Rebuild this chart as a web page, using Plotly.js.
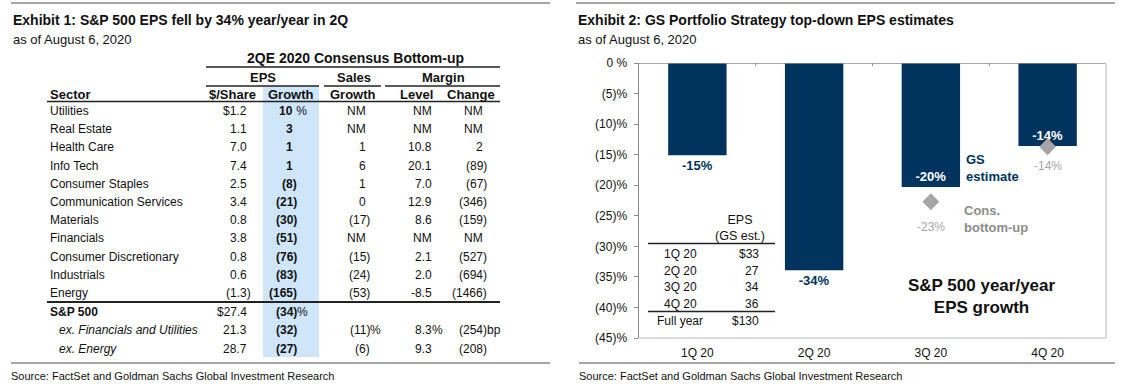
<!DOCTYPE html>
<html><head><meta charset="utf-8">
<script src="https://cdn.plot.ly/plotly-3.0.1.min.js"></script>
<style>html,body{margin:0;padding:0;background:#fff;}#chart{width:1130px;height:388px;}</style>
</head><body><div id="chart"></div>
<script>
// ---------- Exhibit 1 data (table) ----------
const sectors = ["Utilities","Real Estate","Health Care","Info Tech","Consumer Staples","Communication Services","Materials","Financials","Consumer Discretionary","Industrials","Energy"];
const epsPerShare = [1.2,1.1,7.0,7.4,2.5,3.4,0.8,3.8,0.8,0.6,-1.3];
const epsGrowth = [10,3,1,1,-8,-21,-30,-51,-76,-83,-165];
const salesGrowth = [null,null,1,6,1,0,-17,null,-15,-24,-53];
const marginLevel = [null,null,10.8,20.1,7.0,12.9,8.6,null,2.1,2.0,-8.5];
const marginChange = [null,null,2,-89,-67,-346,-159,null,-527,-694,-1466];
const summaryLabels = ["S&P 500","ex. Financials and Utilities","ex. Energy"];
const summaryEps = [27.4,21.3,28.7];
const summaryGrowth = [-34,-32,-27];
const summarySales = [undefined,-11,-6];
const summaryLevel = [undefined,8.3,9.3];
const summaryChange = [undefined,-254,-208];

// ---------- Exhibit 2 data (chart) ----------
const quarters = ["1Q 20","2Q 20","3Q 20","4Q 20"];
const gsEstimate = [-15.1,-33.9,-20.3,-13.6];
const consensus = [null,null,-22.7,-13.7];
const yTicks = [0,-5,-10,-15,-20,-25,-30,-35,-40,-45];
const epsRowLabels = ["1Q 20","2Q 20","3Q 20","4Q 20","Full year"];
const epsGsEst = [33,27,34,36,130];

const FONT = "Liberation Sans, Arial, Helvetica, sans-serif";
const W = 1130, H = 388;
const NAVY = "#00335e", GRAY = "#a6a6a6", INK = "#111111";
const px = x => x / W, py = y => 1 - y / H;

const annotations = [];
const shapes = [];
function ann(text, x, y, o) {
  o = o || {};
  annotations.push({
    text: text, x: px(x), y: py(y), xref: "paper", yref: "paper", showarrow: false,
    xanchor: o.anchor || "left", yanchor: "middle", align: o.align || "left",
    borderpad: 0, borderwidth: 0,
    font: {family: FONT, size: o.size || 12, color: o.color || INK,
           weight: o.bold ? "bold" : "normal", style: o.italic ? "italic" : "normal"}
  });
}
function hline(x0, x1, y, color, width) {
  shapes.push({type: "line", xref: "paper", yref: "paper", x0: px(x0), x1: px(x1), y0: py(y), y1: py(y),
    line: {color: color, width: width}});
}

// ---------- Exhibit 1 layout ----------
hline(11, 550, 3, "#a6a6a6", 2);
hline(11, 550, 363, "#a6a6a6", 2);
hline(576, 1115, 3, "#a6a6a6", 2);
hline(579, 1115, 363, "#a6a6a6", 2);

// blue highlight column
shapes.push({type: "rect", xref: "paper", yref: "paper", x0: px(263), x1: px(319), y0: py(357), y1: py(86),
  fillcolor: "#cfe5f9", line: {width: 0}, layer: "below"});

ann("Exhibit 1: S&P 500 EPS fell by 34% year/year in 2Q", 13, 20, {size: 14, bold: true});
ann("as of August 6, 2020", 13, 40, {size: 13});
ann("2QE 2020 Consensus Bottom-up", 355, 58, {size: 14, bold: true, anchor: "center"});
hline(206, 500, 67, "#222", 1.3);
ann("EPS", 263, 78, {size: 13, bold: true, anchor: "center"});
ann("Sales", 354, 78, {size: 13, bold: true, anchor: "center"});
ann("Margin", 443, 78, {size: 13, bold: true, anchor: "center"});
hline(206, 319, 86, "#222", 1.3);
hline(324, 381, 86, "#222", 1.3);
hline(385, 500, 86, "#222", 1.3);
ann("Sector", 50, 94, {size: 13, bold: true});
ann("$/Share", 232, 94, {size: 13, bold: true, anchor: "center"});
ann("Growth", 291, 94, {size: 13, bold: true, anchor: "center"});
ann("Growth", 353, 94, {size: 13, bold: true, anchor: "center"});
ann("Level", 416, 94, {size: 13, bold: true, anchor: "center"});
ann("Change", 471, 94, {size: 13, bold: true, anchor: "center"});
hline(47, 500, 101.5, "#222", 1.3);

const colEdge = {share: 247, growth: 293, sales: 366, level: 432, change: 483};
function numCell(v, edge, y, digits, opts, suffix, parens) {
  opts = opts || {};
  if (v === undefined) return;
  if (v === null) { ann("NM", edge, y, Object.assign({}, opts, {anchor: "right"})); return; }
  let s, isParen = false;
  if (v < 0 && parens !== false) { s = "(" + Math.abs(v).toFixed(digits) + ")"; isParen = true; }
  else s = v.toFixed(digits);
  const e = isParen ? edge + 4 : edge;
  ann(s, e, y, Object.assign({}, opts, {anchor: "right"}));
  if (suffix) ann(suffix, e, y, Object.assign({}, opts, {anchor: "left", bold: false}));
}

const rowY0 = 111, rowStep = 18.2;
sectors.forEach((name, i) => {
  const y = rowY0 + i * rowStep;
  ann(name, 50, y);
  if (i === 0) {
    ann("$" + epsPerShare[i].toFixed(1), colEdge.share, y, {anchor: "right"});
  } else numCell(epsPerShare[i], colEdge.share, y, 1);
  numCell(epsGrowth[i], colEdge.growth, y, 0, {bold: true}, i === 0 ? "\u00a0%" : null);
  numCell(salesGrowth[i], colEdge.sales, y, 0);
  numCell(marginLevel[i], colEdge.level, y, 1, {}, null, false);
  numCell(marginChange[i], colEdge.change, y, 0);
});
hline(47, 500, 302, "#222", 2);

const sumY = [311.5, 330, 348.5];
summaryLabels.forEach((name, i) => {
  const y = sumY[i];
  ann(name, i === 0 ? 50 : 59, y, {bold: i === 0, italic: i > 0});
  if (i === 0) ann("$" + summaryEps[i].toFixed(1), colEdge.share, y, {anchor: "right"});
  else numCell(summaryEps[i], colEdge.share, y, 1);
  numCell(summaryGrowth[i], colEdge.growth, y, 0, {bold: true}, i === 0 ? "%" : null);
  numCell(summarySales[i], colEdge.sales, y, 0, {}, i === 1 ? "%" : null);
  numCell(summaryLevel[i], colEdge.level, y, 1, {}, i === 1 ? "%" : null, false);
  numCell(summaryChange[i], colEdge.change, y, 0, {}, i === 1 ? "bp" : null);
});

ann("Source: FactSet and Goldman Sachs Global Investment Research", 11, 376, {size: 11});

// ---------- Exhibit 2 ----------
ann("Exhibit 2: GS Portfolio Strategy top-down EPS estimates", 578, 20, {size: 14, bold: true});
ann("as of August 6, 2020", 578, 40, {size: 13});
ann("Source: FactSet and Goldman Sachs Global Investment Research", 579, 376, {size: 11});

ann("GS<br>estimate", 966, 168, {size: 13, bold: true, color: NAVY});
ann("Cons.<br>bottom-up", 964, 219, {size: 13, bold: true, color: "#8c8c8c"});
ann("S&P 500 year/year<br>EPS growth", 982, 296, {size: 17, bold: true, anchor: "center", align: "center"});

// inset EPS table
ann("EPS<br>(GS est.)", 740, 228, {size: 12.5, anchor: "center", align: "center"});
hline(648, 775, 243.5, "#222", 1.3);
epsRowLabels.forEach((lab, i) => {
  const y = 254 + i * 16.7;
  ann(lab, 680, y, {anchor: "center"});
  ann((i === 0 || i === 4 ? "$" : "") + epsGsEst[i], 759, y, {anchor: "right"});
});
hline(648, 775, 311.5, "#222", 1.3);

// consensus labels (placed beneath each diamond)
const consLabelShift = [0, 0, -25, -19];
consensus.forEach((v, i) => {
  if (v === null) return;
  annotations.push({text: Math.round(v) + "%", x: quarters[i], y: v, xref: "x", yref: "y",
    showarrow: false, yshift: consLabelShift[i], xanchor: "center", yanchor: "middle",
    font: {family: FONT, size: 12, color: GRAY}});
});

// frame lines on plot area
shapes.push({type: "line", xref: "x domain", yref: "y", x0: 0, x1: 1, y0: 0, y1: 0, line: {color: "#8c8c8c", width: 1.5}});
shapes.push({type: "line", xref: "x domain", yref: "y domain", x0: 1, x1: 1, y0: 0, y1: 1, line: {color: "#cfcfcf", width: 1.5}});
shapes.push({type: "line", xref: "x domain", yref: "y domain", x0: 0, x1: 1, y0: 0, y1: 0, line: {color: "#cfcfcf", width: 1.5}});
[0.5, 1.5, 2.5].forEach(b => shapes.push({type: "line", xref: "x", yref: "y", x0: b, x1: b, y0: 0, y1: -0.5,
  line: {color: "#8c8c8c", width: 1}}));

const barText = gsEstimate.map(v => Math.round(v) + "%");
const consIdx = consensus.map((v, i) => v === null ? -1 : i).filter(i => i >= 0);

const traces = [
  {type: "bar", x: quarters, y: gsEstimate, marker: {color: NAVY},
   text: barText, textposition: ["outside", "outside", "inside", "inside"],
   insidetextanchor: "end", cliponaxis: false, constraintext: "none",
   insidetextfont: {family: FONT, size: 13, color: "#ffffff", weight: "bold"},
   outsidetextfont: {family: FONT, size: 13, color: NAVY, weight: "bold"},
   hoverinfo: "skip"},
  {type: "scatter", mode: "markers", x: consIdx.map(i => quarters[i]), y: consIdx.map(i => consensus[i]),
   marker: {symbol: "diamond", size: 13, color: GRAY}, cliponaxis: false, hoverinfo: "skip"}
];

const layout = {
  width: W, height: H, margin: {l: 0, r: 0, t: 0, b: 0},
  paper_bgcolor: "#fff", plot_bgcolor: "#fff", showlegend: false, bargap: 0.5,
  font: {family: FONT, size: 12, color: INK},
  xaxis: {domain: [px(639), px(1106)], type: "category", range: [-0.5, 3.5], showline: false,
          ticks: "", showgrid: false, zeroline: false, tickfont: {family: FONT, size: 12, color: INK},
          ticklabelstandoff: 6, fixedrange: true},
  yaxis: {domain: [py(338), py(63)], range: [-45, 0], tickvals: yTicks,
          ticktext: yTicks.map(v => v === 0 ? "0 %" : "(" + Math.abs(v) + ")%"),
          showline: true, linecolor: "#8c8c8c", linewidth: 1.5, ticks: "outside", ticklen: 4,
          tickcolor: "#8c8c8c", showgrid: false, zeroline: false, ticklabelstandoff: 4,
          tickfont: {family: FONT, size: 12, color: INK}, fixedrange: true},
  annotations: annotations, shapes: shapes
};

Plotly.newPlot("chart", traces, layout, {staticPlot: true, displayModeBar: false});
</script></body></html>
